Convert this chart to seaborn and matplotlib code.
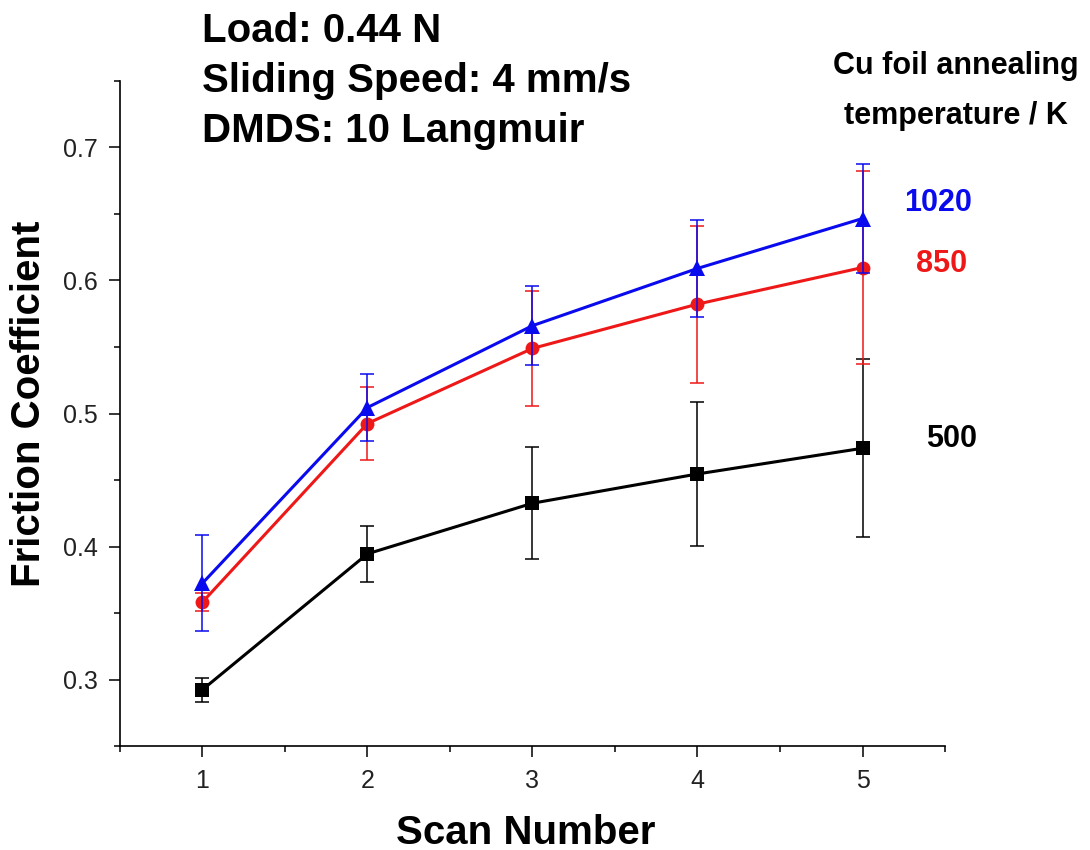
import numpy as np
import pandas as pd
import matplotlib
matplotlib.use("Agg")
import matplotlib.pyplot as plt
import seaborn as sns
from matplotlib.ticker import MultipleLocator

# values
scans = [1, 2, 3, 4, 5]
temps = ["500", "850", "1020"]
mu_500 = [0.2925, 0.3946, 0.4326, 0.4546, 0.4739]
mu_850 = [0.3583, 0.4925, 0.5489, 0.5822, 0.6097]
mu_1020 = [0.3725, 0.5045, 0.5660, 0.6090, 0.6465]
err_500 = [0.009, 0.021, 0.042, 0.0544, 0.067]
err_850 = [0.007, 0.0274, 0.0434, 0.059, 0.0725]
err_1020 = [0.036, 0.0253, 0.0295, 0.0366, 0.041]

colors = {"500": "#000000", "850": "#ee1818", "1020": "#0a0aee"}
markers = {"500": "s", "850": "o", "1020": "^"}
msizes = {"500": 9.5, "850": 10, "1020": 12}

df = pd.DataFrame({
    "scan": scans * 3,
    "mu": mu_500 + mu_850 + mu_1020,
    "err": err_500 + err_850 + err_1020,
    "temp": [t for t in temps for _ in scans],
})

sns.set_style("ticks")
plt.rcParams["font.family"] = ["Liberation Sans", "DejaVu Sans"]
plt.rcParams["text.color"] = "black"

fig = plt.figure(figsize=(10.9, 8.5), dpi=100)
ax = fig.add_axes([0.110, 0.122, 0.757, 0.783])

for i, t in enumerate(temps):
    sub = df[df["temp"] == t]
    sns.lineplot(data=sub, x="scan", y="mu", ax=ax, color=colors[t],
                 marker=markers[t], markersize=msizes[t], markeredgewidth=0,
                 linewidth=2.2, zorder=3 + 2 * i, legend=False)
    ax.errorbar(sub["scan"], sub["mu"], yerr=sub["err"], fmt="none",
                ecolor=colors[t], elinewidth=1.1, capsize=5, capthick=1.1,
                zorder=4 + 2 * i)

ax.set_xlim(0.5, 5.5)
ax.set_ylim(0.25, 0.75)
ax.xaxis.set_major_locator(MultipleLocator(1))
ax.xaxis.set_minor_locator(MultipleLocator(0.5))
ax.yaxis.set_major_locator(MultipleLocator(0.1))
ax.yaxis.set_minor_locator(MultipleLocator(0.05))
ax.tick_params(which="major", length=8, width=1.1, labelsize=18, pad=8,
               color="black", labelcolor="#222222")
ax.tick_params(which="minor", length=4, width=1.1, color="black")
ax.set_xticks(scans)
ax.set_yticks([0.3, 0.4, 0.5, 0.6, 0.7])
ax.set_yticklabels(["0.3", "0.4", "0.5", "0.6", "0.7"])

for side in ["top", "right"]:
    ax.spines[side].set_visible(False)
for side in ["left", "bottom"]:
    ax.spines[side].set_linewidth(1.2)
    ax.spines[side].set_color("black")

ax.set_xlabel("")
ax.set_ylabel("")
fig.text(0.482, 0.020, "Scan Number", fontsize=29, fontweight="bold",
         ha="center", va="center")
fig.text(0.027, 0.525, "Friction Coefficient", fontsize=29, fontweight="bold",
         ha="center", va="center", rotation=90)

# experiment conditions
fig.text(0.185, 0.964, "Load: 0.44 N", fontsize=29, fontweight="bold",
         ha="left", va="center")
fig.text(0.185, 0.905, "Sliding Speed: 4 mm/s", fontsize=29, fontweight="bold",
         ha="left", va="center")
fig.text(0.185, 0.846, "DMDS: 10 Langmuir", fontsize=29, fontweight="bold",
         ha="left", va="center")

fig.text(0.877, 0.922, "Cu foil annealing", fontsize=22, fontweight="bold",
         ha="center", va="center")
fig.text(0.877, 0.863, "temperature / K", fontsize=22, fontweight="bold",
         ha="center", va="center")

fig.text(0.861, 0.761, "1020", fontsize=22, fontweight="bold",
         color=colors["1020"], ha="center", va="center")
fig.text(0.864, 0.690, "850", fontsize=22, fontweight="bold",
         color=colors["850"], ha="center", va="center")
fig.text(0.873, 0.484, "500", fontsize=22, fontweight="bold",
         color=colors["500"], ha="center", va="center")

fig.savefig("out.png", dpi=100)
